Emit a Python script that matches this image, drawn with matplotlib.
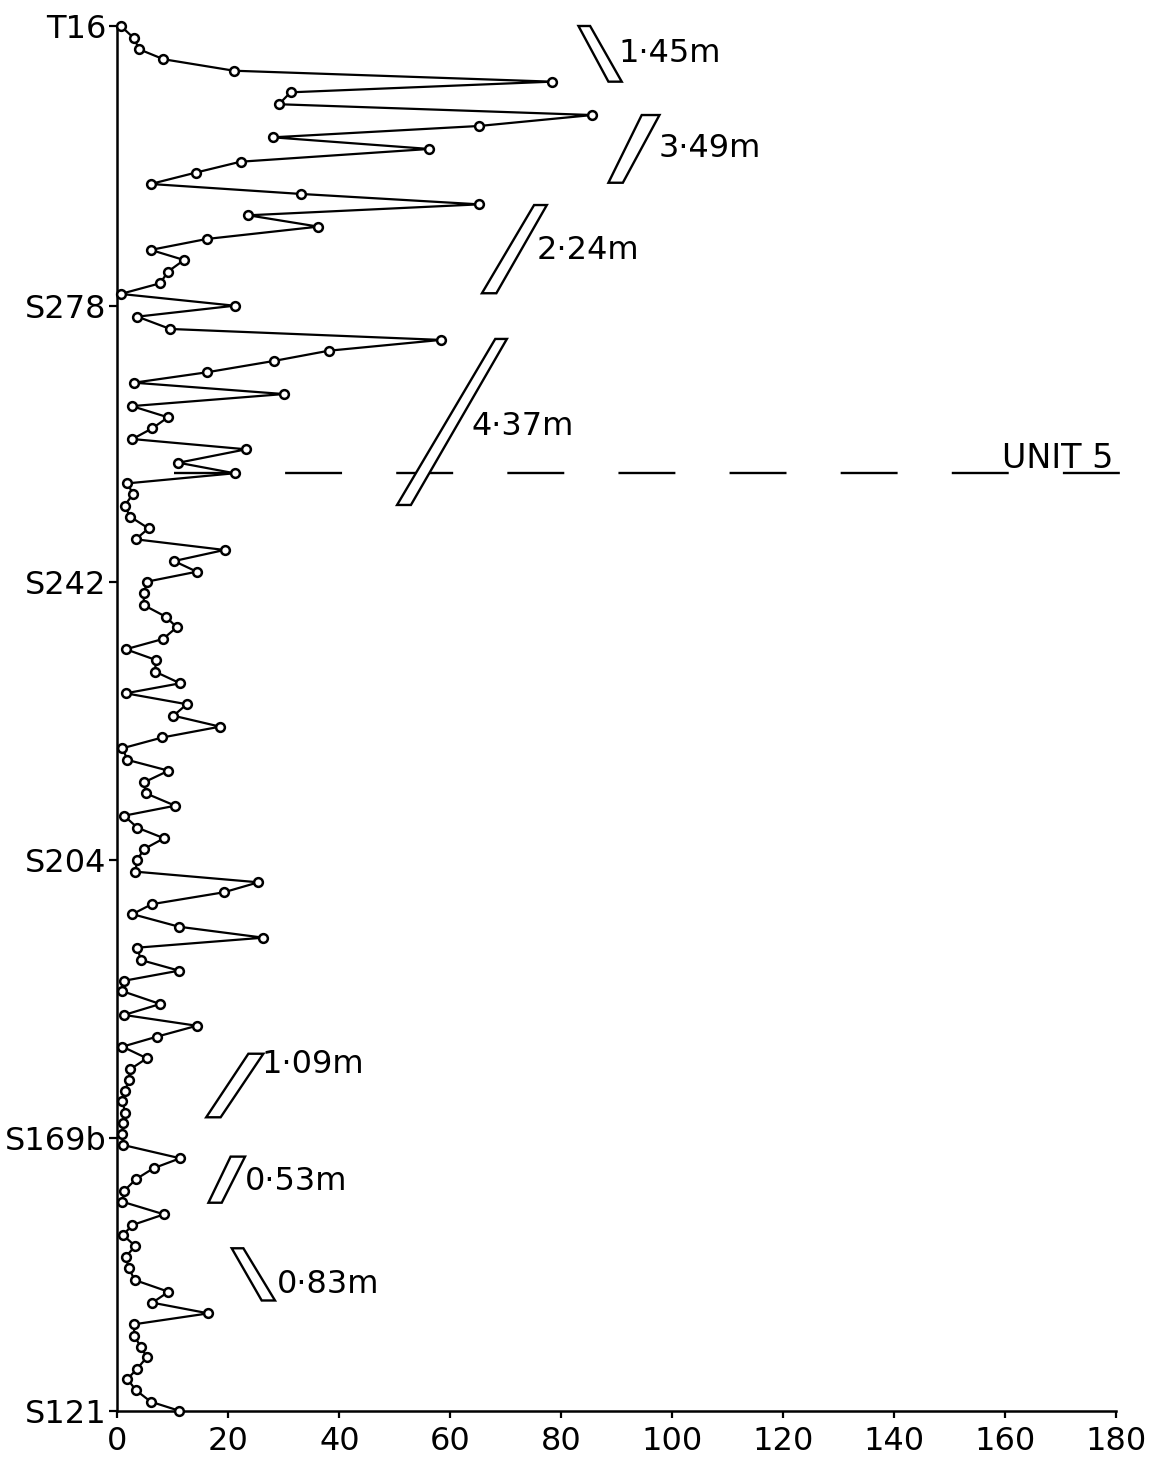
import matplotlib
matplotlib.use("Agg")
import matplotlib.pyplot as plt
from matplotlib.patches import Polygon

plt.rcParams["font.family"] = ["DejaVu Sans"]
plt.rcParams["lines.scale_dashes"] = False

# Count values along the section (bottom axis) and stratigraphic height (0 = S121, 100 = T16)
values = [
    0.6, 3.0, 3.9, 8.3, 21.0, 78.3, 31.2, 29.1, 85.6, 65.2, 28.0, 56.2, 22.2, 14.1, 6.0, 33.1,
    65.2, 23.6, 36.2, 16.1, 6.0, 12.0, 9.1, 7.7, 0.6, 21.1, 3.6, 9.5, 58.3, 38.1, 28.2, 16.1, 3.0,
    30.0, 2.6, 9.1, 6.3, 2.7, 23.2, 11.0, 21.1, 1.8, 2.8, 1.3, 2.3, 5.6, 3.3, 19.3, 10.2,
    14.3, 5.3, 4.8, 4.7, 8.7, 10.7, 8.2, 1.5, 6.9, 6.8, 11.3, 1.5, 12.5, 10.1, 18.5, 8.1,
    0.9, 1.8, 9.2, 4.8, 5.1, 10.4, 1.2, 3.6, 8.4, 4.7, 3.6, 3.2, 25.4, 19.2, 6.2, 2.7,
    11.1, 26.3, 3.6, 4.2, 11.1, 1.2, 0.8, 7.7, 1.2, 14.3, 7.1, 0.9, 5.3, 2.3, 2.0, 1.4, 0.9,
    1.4, 1.0, 0.9, 1.0, 11.3, 6.5, 3.3, 1.2, 0.9, 8.4, 2.7, 1.0, 3.2, 1.5, 2.0, 3.1,
    9.2, 6.3, 16.4, 3.0, 3.0, 4.2, 5.3, 3.5, 1.8, 3.3, 6.0, 11.1,
]
heights = [
    100.0, 99.11, 98.32, 97.60, 96.77, 95.98, 95.21, 94.35, 93.57, 92.78, 91.96, 91.12, 90.20, 89.41, 88.59, 87.87,
    87.12, 86.33, 85.51, 84.62, 83.83, 83.10, 82.26, 81.42, 80.65, 79.80, 79.01, 78.12, 77.33, 76.55, 75.81, 74.99, 74.24,
    73.42, 72.55, 71.74, 70.95, 70.17, 69.43, 68.46, 67.70, 66.97, 66.20, 65.36, 64.56, 63.72, 62.93, 62.16, 61.36,
    60.59, 59.87, 59.03, 58.19, 57.34, 56.58, 55.73, 54.99, 54.22, 53.37, 52.53, 51.81, 51.02, 50.19, 49.40, 48.62,
    47.84, 47.00, 46.22, 45.38, 44.59, 43.69, 42.97, 42.10, 41.34, 40.54, 39.77, 38.93, 38.16, 37.44, 36.58, 35.86,
    34.95, 34.16, 33.44, 32.55, 31.78, 31.05, 30.31, 29.37, 28.58, 27.80, 27.01, 26.29, 25.45, 24.66, 23.88, 23.09, 22.34,
    21.52, 20.76, 19.96, 19.19, 18.23, 17.51, 16.71, 15.87, 15.09, 14.18, 13.41, 12.69, 11.89, 11.12, 10.34, 9.44,
    8.59, 7.80, 7.03, 6.24, 5.42, 4.62, 3.86, 3.01, 2.29, 1.49, 0.65, 0.0,
]

sample_labels = ["S121", "S169b", "S204", "S242", "S278", "T16"]
sample_positions = [0.0, 19.67, 39.77, 59.87, 79.80, 100.0]
x_ticks = list(range(0, 181, 20))

# Section thicknesses: label, outline (top-left, top-right, bottom-right, bottom-left), label anchor
thickness_labels = ["1·45m", "3·49m", "2·24m", "4·37m", "1·09m", "0·53m", "0·83m"]
thickness_bars = [
    [(83.1, 100.0), (85.2, 100.0), (90.9, 95.98), (88.5, 95.98)],
    [(94.5, 93.57), (97.7, 93.57), (91.1, 88.68), (88.5, 88.68)],
    [(75.1, 87.07), (77.4, 87.07), (68.3, 80.70), (65.7, 80.70)],
    [(68.1, 77.40), (70.2, 77.40), (52.9, 65.41), (50.4, 65.41)],
    [(23.6, 25.78), (26.3, 25.78), (18.6, 21.19), (16.0, 21.19)],
    [(20.4, 18.35), (23.0, 18.35), (18.8, 15.02), (16.4, 15.02)],
    [(20.6, 11.73), (22.7, 11.73), (28.4, 7.96), (26.0, 7.96)],
]
thickness_anchor = [
    (90.3, 98.03), (97.5, 91.17), (75.6, 83.76), (63.9, 71.06),
    (26.0, 25.02), (23.0, 16.54), (28.7, 9.08),
]

unit_boundary = 67.70

fig = plt.figure(figsize=(11.64, 14.72), dpi=100)
ax = fig.add_axes([0.1009, 0.04164, 0.8579, 0.9407])

ax.plot(values, heights, color="black", linewidth=1.6, marker="o",
        markersize=6.3, markerfacecolor="white", markeredgecolor="black",
        markeredgewidth=1.8, clip_on=False, zorder=3)

for label, corners, (tx, ty) in zip(thickness_labels, thickness_bars, thickness_anchor):
    ax.add_patch(Polygon(corners, closed=True, facecolor="white",
                         edgecolor="black", linewidth=1.7, clip_on=False, zorder=4))
    ax.text(tx, ty, label, fontsize=23, ha="left", va="center", color="black")

# Unit 5 boundary
ax.plot([10.2, 180.8], [unit_boundary, unit_boundary], color="black",
        linewidth=1.7, dashes=(41, 39), clip_on=False, zorder=2)
ax.text(159.5, unit_boundary + 0.35, "UNIT 5", fontsize=24, ha="left",
        va="baseline", color="black")

ax.set_xlim(0, 180)
ax.set_ylim(0, 100)
ax.set_xticks(x_ticks)
ax.set_xticklabels([str(t) for t in x_ticks])
ax.set_yticks(sample_positions)
ax.set_yticklabels(sample_labels)

for side in ("top", "right"):
    ax.spines[side].set_visible(False)
for side in ("left", "bottom"):
    ax.spines[side].set_linewidth(1.8)

ax.tick_params(axis="x", direction="out", length=5, width=1.6, pad=6, labelsize=23)
ax.tick_params(axis="y", direction="out", length=6, width=1.6, pad=2, labelsize=23)

fig.savefig("out.png", dpi=100, facecolor="white")
